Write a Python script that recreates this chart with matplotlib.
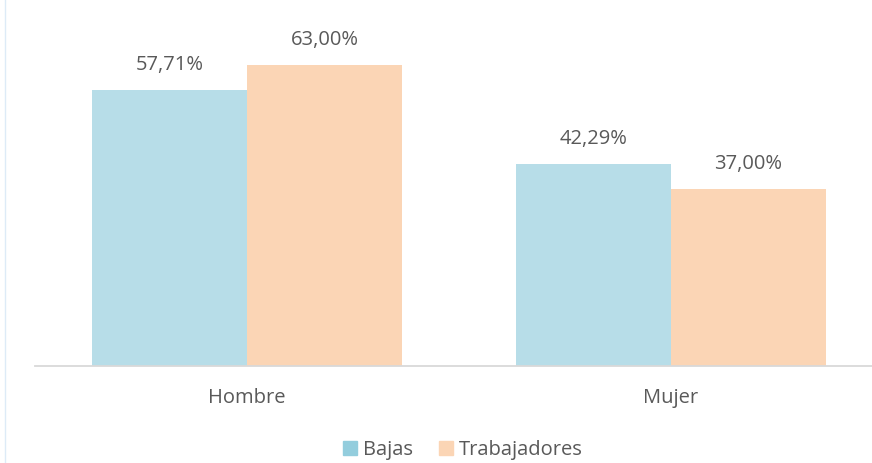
import matplotlib.pyplot as plt
import numpy as np
from matplotlib.patches import Patch

plt.rcParams['font.family'] = ['Open Sans', 'DejaVu Sans']

categorias = ['Hombre', 'Mujer']
bajas = [57.71, 42.29]
trabajadores = [63.00, 37.00]
series = ['Bajas', 'Trabajadores']

col_bajas = '#B7DDE8'
col_trab = '#FBD5B5'
gris = '#595959'
fs = 14.5

fig = plt.figure(figsize=(8.72, 4.63), dpi=100)
# el eje sigue más allá del borde derecho, como en el original
ax = fig.add_axes([35 / 872, 97 / 463, 848 / 872, 335 / 463])

x = np.arange(len(categorias))
w = 0.365
b1 = ax.bar(x - w / 2, bajas, w, color=col_bajas)
b2 = ax.bar(x + w / 2, trabajadores, w, color=col_trab)

for barras in (b1, b2):
    for r in barras:
        v = r.get_height()
        ax.text(r.get_x() + r.get_width() / 2, v + 4.1,
                f'{v:.2f}%'.replace('.', ','),
                ha='center', va='baseline', fontsize=fs, color=gris)

ax.set_xlim(-0.5, 1.5)
ax.set_ylim(0, 70)
ax.set_xticks(x)
ax.set_xticklabels(categorias, fontsize=fs, color=gris)
ax.tick_params(axis='x', length=0, pad=16)
ax.set_yticks([])
for s in ['top', 'right', 'left']:
    ax.spines[s].set_visible(False)
ax.spines['bottom'].set_color('#D9D9D9')
ax.spines['bottom'].set_linewidth(1.3)

handles = [Patch(color='#93CDDD'), Patch(color='#FBD5B5')]
fig.legend(handles, series, loc='center', bbox_to_anchor=(463 / 872, 1 - 450 / 463),
           ncol=2, frameon=False, fontsize=fs, labelcolor=gris,
           handlelength=0.72, handleheight=0.72, handletextpad=0.3,
           columnspacing=1.25, borderpad=0)

# borde fino a la izquierda
fig.add_artist(plt.Line2D([5 / 872, 5 / 872], [0, 1], color='#DDEBF7', lw=1))

fig.savefig('out.png', dpi=100)
